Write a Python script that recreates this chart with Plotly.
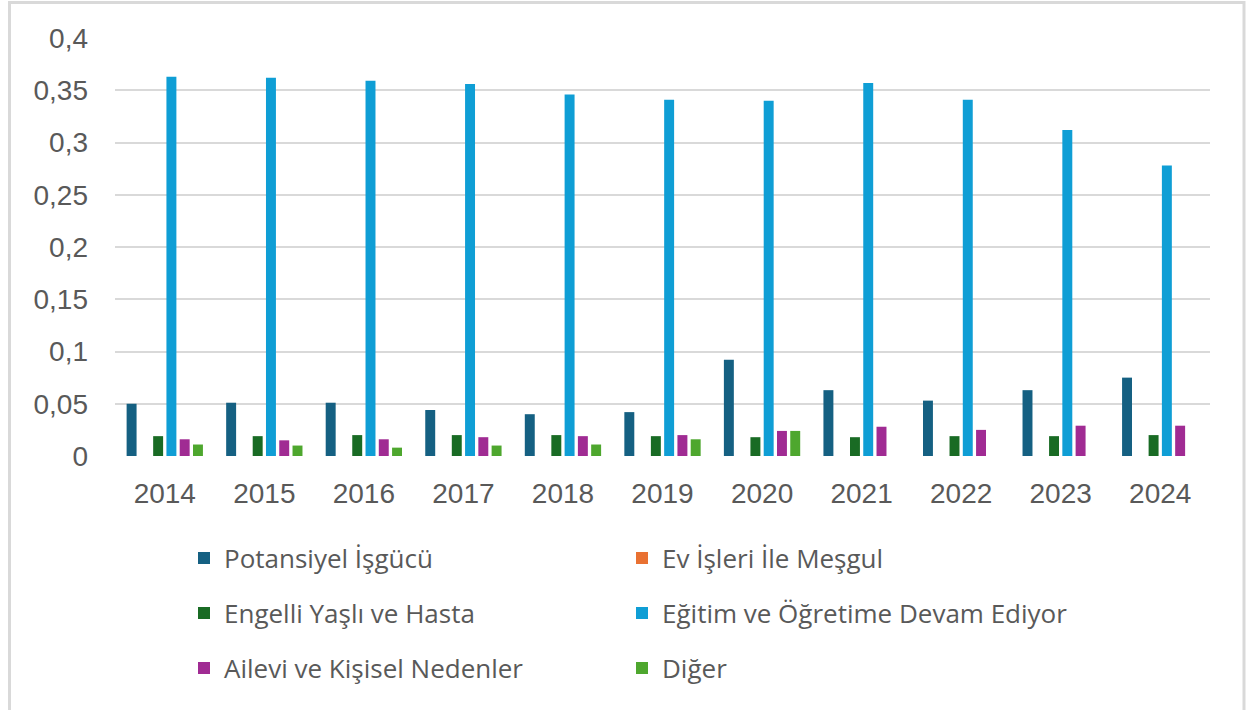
import plotly.graph_objects as go

years = ["2014", "2015", "2016", "2017", "2018", "2019", "2020", "2021", "2022", "2023", "2024"]

potansiyel = [0.050, 0.051, 0.051, 0.044, 0.040, 0.042, 0.092, 0.063, 0.053, 0.063, 0.075]
ev_isleri = [0, 0, 0, 0, 0, 0, 0, 0, 0, 0, 0]
engelli = [0.019, 0.019, 0.020, 0.020, 0.020, 0.019, 0.018, 0.018, 0.019, 0.019, 0.020]
egitim = [0.363, 0.362, 0.359, 0.356, 0.346, 0.341, 0.340, 0.357, 0.341, 0.312, 0.278]
ailevi = [0.016, 0.015, 0.016, 0.018, 0.019, 0.020, 0.024, 0.028, 0.025, 0.029, 0.029]
diger = [0.011, 0.010, 0.008, 0.010, 0.011, 0.016, 0.024, 0, 0, 0, 0]

series_names = ["Potansiyel İşgücü", "Ev İşleri İle Meşgul", "Engelli Yaşlı ve Hasta",
                "Eğitim ve Öğretime Devam Ediyor", "Ailevi ve Kişisel Nedenler", "Diğer"]
series_values = [potansiyel, ev_isleri, engelli, egitim, ailevi, diger]
colors = ["#156082", "#E97132", "#196B24", "#0F9ED5", "#A02B93", "#4EA72E"]

y_tickvals = [0, 0.05, 0.1, 0.15, 0.2, 0.25, 0.3, 0.35, 0.4]
y_ticktext = ["0", "0,05", "0,1", "0,15", "0,2", "0,25", "0,3", "0,35", "0,4"]

W, H = 1247, 710
ML, MR, MT, MB = 115, 37, 38, 254
pw = W - ML - MR
ph = H - MT - MB

def px_x(x):
    return (x - ML) / pw

def px_y(y):
    return (H - MB - y) / ph

# legend slot positions (pixels): two columns, three rows
col_x = [184, 622]
row_y = [558, 613, 668]

fig = go.Figure()
legend_layouts = {}
for i, (name, vals, col) in enumerate(zip(series_names, series_values, colors)):
    lid = "legend" if i == 0 else f"legend{i + 1}"
    fig.add_trace(go.Bar(
        x=years, y=vals, name=name, legend=lid,
        marker=dict(color=col, line=dict(width=0)),
    ))
    legend_layouts[lid] = dict(
        orientation="h",
        font=dict(family="Open Sans", size=26, color="#595959"),
        bgcolor="rgba(0,0,0,0)", xanchor="left", yanchor="middle",
        x=px_x(col_x[i % 2]), y=px_y(row_y[i // 2]),
    )

fig.update_layout(
    width=W, height=H,
    margin=dict(l=ML, r=MR, t=MT, b=MB),
    paper_bgcolor="white", plot_bgcolor="white",
    barmode="group", bargap=0.2, bargroupgap=0.25,
    showlegend=True,
    xaxis=dict(
        showgrid=False, showline=False, zeroline=False, ticks="",
        tickfont=dict(family="Liberation Sans", size=28, color="#595959"),
        ticklabelstandoff=18,
    ),
    yaxis=dict(
        range=[0, 0.4], tickvals=y_tickvals, ticktext=y_ticktext,
        showgrid=True, gridcolor="#d9d9d9", gridwidth=2,
        zeroline=False, showline=False, ticks="",
        tickfont=dict(family="Liberation Sans", size=28, color="#595959"),
        ticklabelstandoff=26,
    ),
    shapes=[dict(
        type="rect", xref="paper", yref="paper", layer="below",
        x0=px_x(9.5), x1=px_x(1244), y0=px_y(720), y1=px_y(2.5),
        line=dict(color="#d9d9d9", width=3), fillcolor="rgba(0,0,0,0)",
    )],
    **legend_layouts,
)

fig.write_html(
    "out.html",
    config={"displayModeBar": False},
    post_script="document.body.style.margin='0';document.body.style.overflow='hidden';",
)
